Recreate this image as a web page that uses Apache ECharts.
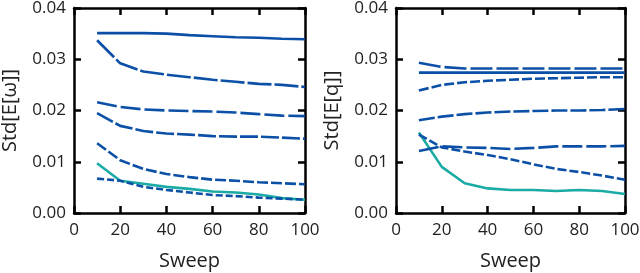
<!DOCTYPE html>
<html><head><meta charset="utf-8">
<script src="https://cdn.jsdelivr.net/npm/echarts@6/dist/echarts.min.js"></script>
<style>html,body{margin:0;padding:0;background:#fff}#c{width:640px;height:273px}</style>
</head><body><div id="c"></div>
<script>
const sweeps = [10, 20, 30, 40, 50, 60, 70, 80, 90, 100];
const xTicks = [0, 20, 40, 60, 80, 100];
const yTicks = [0.00, 0.01, 0.02, 0.03, 0.04];

// Left panel: Std[E[ω]]
const leftA = [0.0351, 0.0351, 0.0351, 0.0350, 0.0347, 0.0345, 0.0343, 0.0342, 0.0340, 0.0339];
const leftB = [0.0337, 0.0292, 0.0276, 0.0270, 0.0265, 0.0260, 0.0256, 0.0252, 0.0250, 0.0246];
const leftC = [0.0216, 0.0207, 0.0202, 0.0200, 0.0199, 0.0198, 0.0196, 0.0193, 0.0190, 0.0189];
const leftD = [0.0195, 0.0170, 0.0160, 0.0155, 0.0153, 0.0150, 0.0149, 0.0149, 0.0147, 0.0145];
const leftE = [0.0136, 0.0103, 0.0086, 0.0076, 0.0070, 0.0065, 0.0063, 0.0060, 0.0058, 0.0056];
const leftF = [0.0067, 0.0063, 0.0051, 0.0045, 0.0040, 0.0035, 0.0033, 0.0030, 0.0028, 0.0026];
const leftTeal = [0.0097, 0.0063, 0.0057, 0.0051, 0.0047, 0.0042, 0.0040, 0.0036, 0.0029, 0.0026];

// Right panel: Std[E[q]]
const rightA = [0.0293, 0.0285, 0.0282, 0.0282, 0.0282, 0.0282, 0.0282, 0.0282, 0.0282, 0.0282];
const rightB = [0.0274, 0.0274, 0.0274, 0.0274, 0.0274, 0.0274, 0.0274, 0.0274, 0.0274, 0.0274];
const rightC = [0.0239, 0.0250, 0.0255, 0.0258, 0.0260, 0.0262, 0.0263, 0.0264, 0.0265, 0.0265];
const rightD = [0.0181, 0.0188, 0.0193, 0.0196, 0.0198, 0.0199, 0.0200, 0.0200, 0.0201, 0.0203];
const rightE = [0.0121, 0.0130, 0.0128, 0.0127, 0.0125, 0.0127, 0.0130, 0.0130, 0.0130, 0.0131];
const rightF = [0.0153, 0.0128, 0.0120, 0.0113, 0.0105, 0.0095, 0.0086, 0.0080, 0.0073, 0.0065];
const rightTeal = [0.0157, 0.0090, 0.0058, 0.0048, 0.0045, 0.0045, 0.0043, 0.0045, 0.0043, 0.0037];

const BLUE = '#0b50a6', TEAL = '#1aaba4', TXT = '#222';
const FONT = 'Open Sans';

function pairs(v){ return sweeps.map((x,i)=>[x, v[i]]); }

function mkSeries(arr, gi, color, dash, z){
  return {type:'line', xAxisIndex: gi*2, yAxisIndex: gi*2, data: pairs(arr), showSymbol:false, symbol:'none',
    smooth:false, z: z||2, lineStyle:{color, width:2.6, type: dash}};
}

const grids = [
  {left:74, right:335, top:8, bottom:60, outerBoundsMode:'none', containLabel:false},
  {left:396, right:15, top:8, bottom:60, outerBoundsMode:'none', containLabel:false}
];
const xAxes = [], yAxes = [];
const names = ['Std[E[ω]]', 'Std[E[q]]'];
const frame = {show:true, onZero:false, lineStyle:{color:'#000', width:2.5}};
const tick = {show:true, inside:true, length:7, lineStyle:{color:'#000', width:2.5}};
[0,1].forEach(g=>{
  xAxes.push({type:'value', gridIndex:g, min:0, max:100, interval:20, position:'bottom',
    axisLine:frame, axisTick:tick,
    axisLabel:{color:TXT, fontSize:17, fontFamily:FONT, margin:9},
    splitLine:{show:false},
    name:'Sweep', nameLocation:'middle', nameGap:38, nameTextStyle:{color:TXT, fontSize:20, fontFamily:FONT}});
  xAxes.push({type:'value', gridIndex:g, min:0, max:100, interval:20, position:'top',
    axisLine:frame, axisTick:tick, axisLabel:{show:false}, splitLine:{show:false}});
  yAxes.push({type:'value', gridIndex:g, min:0, max:0.04, interval:0.01, position:'left',
    axisLine:frame, axisTick:tick,
    axisLabel:{color:TXT, fontSize:17, fontFamily:FONT, margin:8, formatter:v=>v.toFixed(2)},
    splitLine:{show:false},
    name:names[g], nameLocation:'middle', nameGap:54, nameTextStyle:{color:TXT, fontSize:20, fontFamily:FONT}});
  yAxes.push({type:'value', gridIndex:g, min:0, max:0.04, interval:0.01, position:'right',
    axisLine:frame, axisTick:tick, axisLabel:{show:false}, splitLine:{show:false}});
});

const series = [
  mkSeries(leftA, 0, BLUE, 'solid'),
  mkSeries(leftB, 0, BLUE, [24,3]),
  mkSeries(leftC, 0, BLUE, [20,4]),
  mkSeries(leftD, 0, BLUE, [18,3]),
  mkSeries(leftE, 0, BLUE, [11,3]),
  mkSeries(leftTeal, 0, TEAL, 'solid', 1),
  mkSeries(leftF, 0, BLUE, [7,3]),
  mkSeries(rightA, 1, BLUE, [22,4]),
  mkSeries(rightB, 1, BLUE, 'solid'),
  mkSeries(rightC, 1, BLUE, [10,3]),
  mkSeries(rightD, 1, BLUE, [16,3]),
  mkSeries(rightE, 1, BLUE, [20,4]),
  mkSeries(rightF, 1, BLUE, [9,3]),
  mkSeries(rightTeal, 1, TEAL, 'solid', 1)
];

const chart = echarts.init(document.getElementById('c'), null, {renderer:'canvas'});
chart.setOption({animation:false, backgroundColor:'#fff', grid:grids, xAxis:xAxes, yAxis:yAxes, series});
</script></body></html>
